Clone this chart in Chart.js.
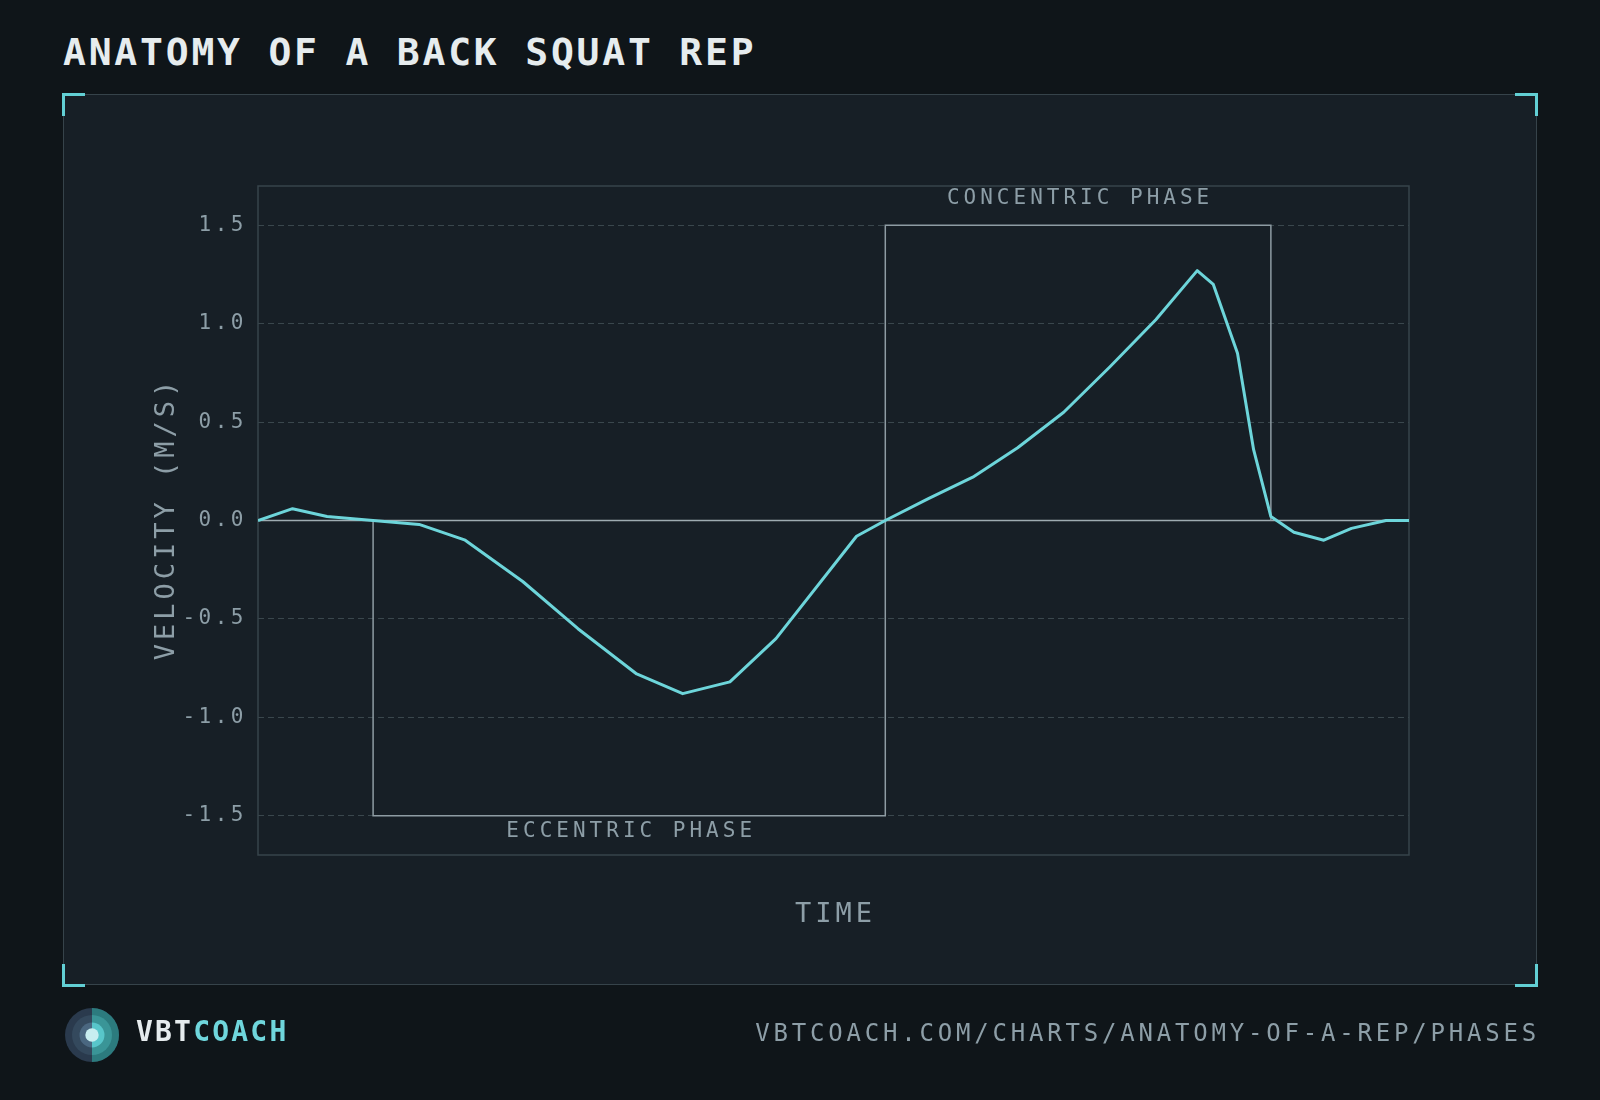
<!DOCTYPE html>
<html>
<head>
    <title>Anatomy of a Back Squat Rep</title>
    <script src="https://cdn.jsdelivr.net/npm/chart.js"></script>
    <style>
        body {
            margin: 0;
            width: 1600px;
            height: 1100px;
            overflow: hidden;
            background: #0f1519;
            font-family: 'DejaVu Sans Mono', 'Liberation Mono', monospace;
            position: relative;
        }
        .title {
            position: absolute;
            left: 63px;
            top: 28px;
            font-size: 38px;
            line-height: 48px;
            font-weight: bold;
            letter-spacing: 2.8px;
            color: #e6ecee;
        }
        .card {
            position: absolute;
            left: 63px;
            top: 94px;
            width: 1474px;
            height: 891px;
            box-sizing: border-box;
            border: 1.5px solid #36434a;
            background: #171f26;
        }
        .corner {
            position: absolute;
            box-sizing: border-box;
            width: 23px;
            height: 23px;
            border: 0 solid #62cfd4;
        }
        .tl { left: 62px; top: 93px; border-top-width: 3px; border-left-width: 3px; }
        .tr { left: 1515px; top: 93px; border-top-width: 3px; border-right-width: 3px; }
        .bl { left: 62px; top: 964px; border-bottom-width: 3px; border-left-width: 3px; }
        .br { left: 1515px; top: 964px; border-bottom-width: 3px; border-right-width: 3px; }
        #wrap {
            position: absolute;
            left: 0;
            top: 0;
            width: 1600px;
            height: 1100px;
        }
        .logo { position: absolute; left: 65px; top: 1008px; }
        .brand {
            position: absolute;
            left: 136px;
            top: 1014px;
            font-size: 28px;
            line-height: 36px;
            font-weight: bold;
            letter-spacing: 2.2px;
            color: #e6ecee;
        }
        .brand span { color: #6fd6dc; }
        .url {
            position: absolute;
            right: 60px;
            top: 1018px;
            font-size: 24px;
            line-height: 30px;
            letter-spacing: 3.8px;
            color: #8d9ea7;
        }
    </style>
</head>
<body>
    <div class="title">ANATOMY OF A BACK SQUAT REP</div>
    <div class="card"></div>
    <div class="corner tl"></div>
    <div class="corner tr"></div>
    <div class="corner bl"></div>
    <div class="corner br"></div>
    <div id="wrap"><canvas id="repChart"></canvas></div>

    <svg class="logo" width="54" height="54" viewBox="0 0 54 54">
        <defs>
            <clipPath id="rightHalf"><rect x="27" y="0" width="27" height="54"/></clipPath>
        </defs>
        <circle cx="27" cy="27" r="27" fill="#2a3a4d"/>
        <circle cx="27" cy="27" r="20" fill="#34495d"/>
        <circle cx="27" cy="27" r="12.5" fill="#4a6780"/>
        <g clip-path="url(#rightHalf)">
            <circle cx="27" cy="27" r="27" fill="#2c7b7e"/>
            <circle cx="27" cy="27" r="20" fill="#3a9597"/>
            <circle cx="27" cy="27" r="12.5" fill="#58c6ca"/>
        </g>
        <circle cx="27" cy="27" r="6.7" fill="#c8eef0"/>
    </svg>
    <div class="brand">VBT<span>COACH</span></div>
    <div class="url">VBTCOACH.COM/CHARTS/ANATOMY-OF-A-REP/PHASES</div>

    <script>
        // Rep data: time as % of the rep, velocity in m/s
        const timePct = [0, 3, 6, 10, 14, 18, 23, 27.8, 32.9, 36.9, 41, 45, 52, 54.5,
            58.2, 62.1, 66, 70, 74, 78, 81.6, 83, 85.1, 86.5, 88, 90, 92.6, 95, 98, 100];
        const velocity = [0, 0.06, 0.02, 0, -0.02, -0.10, -0.31, -0.55, -0.78, -0.88, -0.82, -0.60, -0.08, 0,
            0.11, 0.22, 0.37, 0.55, 0.78, 1.02, 1.27, 1.20, 0.85, 0.36, 0.02, -0.06, -0.10, -0.04, 0, 0];

        // Phase boxes
        const phaseNames = ['ECCENTRIC PHASE', 'CONCENTRIC PHASE'];
        const phaseStart = [10, 54.5];
        const phaseEnd = [54.5, 88];
        const phaseLimit = [-1.5, 1.5];

        const yTicks = [-1.5, -1.0, -0.5, 0.0, 0.5, 1.0, 1.5];
        const yMin = -1.7, yMax = 1.7;
        const xMin = 0, xMax = 100;

        const boxData = i => [
            { x: phaseStart[i], y: 0 },
            { x: phaseStart[i], y: phaseLimit[i] },
            { x: phaseEnd[i], y: phaseLimit[i] },
            { x: phaseEnd[i], y: 0 }
        ];

        const lineStyle = { showLine: true, pointRadius: 0, fill: false, tension: 0 };

        // frame around the plot + spaced tick text
        const frame = {
            id: 'frame',
            beforeDraw(chart) {
                chart.ctx.letterSpacing = '3.5px';
            },
            beforeDatasetsDraw(chart) {
                const { ctx, chartArea: a } = chart;
                ctx.save();
                ctx.strokeStyle = '#37444b';
                ctx.lineWidth = 1.5;
                ctx.strokeRect(a.left, a.top, a.right - a.left, a.bottom - a.top);
                ctx.restore();
            },
            afterDraw(chart) {
                const { ctx, chartArea: a, scales } = chart;
                ctx.save();
                ctx.fillStyle = '#8d9ea7';
                ctx.textAlign = 'center';
                ctx.textBaseline = 'middle';

                // phase labels
                ctx.font = '21px "DejaVu Sans Mono"';
                ctx.letterSpacing = '4px';
                phaseNames.forEach((name, i) => {
                    const cx = (scales.x.getPixelForValue(phaseStart[i]) + scales.x.getPixelForValue(phaseEnd[i])) / 2;
                    const py = scales.y.getPixelForValue(phaseLimit[i]);
                    const cy = phaseLimit[i] > 0 ? py - 27 : py + 16;
                    ctx.fillText(name, cx + 2, cy);
                });

                // axis titles
                ctx.font = '27px "DejaVu Sans Mono"';
                ctx.letterSpacing = '4px';
                ctx.fillText('TIME', (a.left + a.right) / 2 + 2, a.bottom + 60);
                ctx.translate(a.left - 91, (a.top + a.bottom) / 2);
                ctx.rotate(-Math.PI / 2);
                ctx.fillText('VELOCITY (M/S)', 2, 0);
                ctx.restore();
            }
        };

        new Chart(document.getElementById('repChart'), {
            type: 'scatter',
            data: {
                datasets: [
                    {
                        label: 'Velocity',
                        data: timePct.map((t, i) => ({ x: t, y: velocity[i] })),
                        borderColor: '#6dd5da',
                        borderWidth: 3,
                        borderJoinStyle: 'round',
                        ...lineStyle
                    },
                    {
                        label: phaseNames[0],
                        data: boxData(0),
                        borderColor: '#8e9ca3',
                        borderWidth: 1.5,
                        ...lineStyle
                    },
                    {
                        label: phaseNames[1],
                        data: boxData(1),
                        borderColor: '#8e9ca3',
                        borderWidth: 1.5,
                        ...lineStyle
                    },
                    {
                        label: 'Zero',
                        data: [{ x: xMin, y: 0 }, { x: xMax, y: 0 }],
                        borderColor: '#9eabb1',
                        borderWidth: 1.5,
                        ...lineStyle
                    }
                ]
            },
            options: {
                responsive: true,
                maintainAspectRatio: false,
                animation: false,
                layout: { padding: { left: 158, top: 186, right: 191, bottom: 245 } },
                plugins: {
                    legend: { display: false },
                    tooltip: { enabled: false }
                },
                scales: {
                    x: {
                        type: 'linear',
                        min: xMin,
                        max: xMax,
                        display: false
                    },
                    y: {
                        min: yMin,
                        max: yMax,
                        afterFit: s => { s.width = 100; },
                        afterBuildTicks: s => { s.ticks = yTicks.map(v => ({ value: v })); },
                        border: { display: false, dash: [6, 4] },
                        grid: {
                            drawTicks: false,
                            lineWidth: 1,
                            color: c => c.tick && c.tick.value === 0 ? 'transparent' : '#3a474d'
                        },
                        ticks: {
                            padding: 11,
                            color: '#8d9ea7',
                            font: { family: 'DejaVu Sans Mono', size: 21 },
                            callback: v => v.toFixed(1)
                        }
                    }
                }
            },
            plugins: [frame]
        });
    </script>
</body>
</html>
